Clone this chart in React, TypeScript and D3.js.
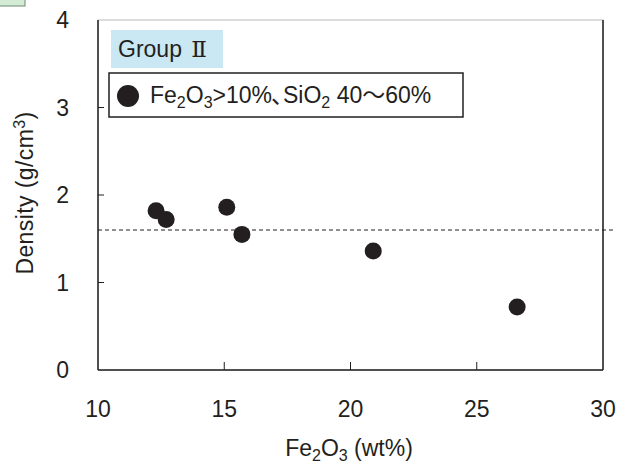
import React, { useEffect, useRef } from 'react';
import * as d3 from 'd3';

// Fe2O3 (wt%) vs density (g/cm3), Group II samples
const fe2o3 = [12.3, 12.7, 15.1, 15.7, 20.9, 26.6];
const density = [1.82, 1.72, 1.86, 1.55, 1.36, 0.72];
const xTicks = [10, 15, 20, 25, 30];
const yTicks = [0, 1, 2, 3, 4];
const refLine = 1.6;

const W = 628;
const H = 464;
const ink = '#231f20';
const font = '"Liberation Sans", Arial, "Noto Sans CJK JP", sans-serif';

const App = () => {
  const ref = useRef(null);

  useEffect(() => {
    const svg = d3.select(ref.current);
    svg.selectAll('*').remove();

    const m = { left: 98, right: 25, top: 20, bottom: 94 };
    const x = d3.scaleLinear().domain([10, 30]).range([m.left, W - m.right]);
    const y = d3.scaleLinear().domain([0, 4]).range([H - m.bottom, m.top]);

    // cut-off label box in the corner
    svg.append('rect')
      .attr('x', -1).attr('y', -1).attr('width', 26).attr('height', 7)
      .attr('fill', '#d4ecd6').attr('stroke', '#6a8a6e').attr('stroke-width', 1);

    // frame
    svg.append('rect')
      .attr('x', x(10)).attr('y', y(4))
      .attr('width', x(30) - x(10)).attr('height', y(0) - y(4))
      .attr('fill', 'none').attr('stroke', '#bbbbbb').attr('stroke-width', 1);
    svg.append('line')
      .attr('x1', x(10)).attr('x2', x(30)).attr('y1', y(0)).attr('y2', y(0))
      .attr('stroke', ink).attr('stroke-width', 1.5);
    svg.append('line')
      .attr('x1', x(10)).attr('x2', x(10)).attr('y1', y(0)).attr('y2', y(4))
      .attr('stroke', ink).attr('stroke-width', 1.5);
    svg.append('line')
      .attr('x1', x(30)).attr('x2', x(30)).attr('y1', y(0)).attr('y2', y(4))
      .attr('stroke', ink).attr('stroke-width', 1.5);

    // inward ticks
    svg.selectAll('.xt').data(xTicks.slice(1, -1)).enter().append('line')
      .attr('x1', d => x(d)).attr('x2', d => x(d))
      .attr('y1', y(0)).attr('y2', y(0) - 8)
      .attr('stroke', ink).attr('stroke-width', 1);
    svg.selectAll('.yt').data(yTicks.slice(1, -1)).enter().append('line')
      .attr('x1', x(10)).attr('x2', x(10) + 6)
      .attr('y1', d => y(d)).attr('y2', d => y(d))
      .attr('stroke', ink).attr('stroke-width', 1);

    // tick labels
    svg.selectAll('.xl').data(xTicks).enter().append('text')
      .attr('x', d => x(d)).attr('y', 417)
      .attr('text-anchor', 'middle')
      .attr('font-family', font).attr('font-size', 23).attr('fill', ink)
      .text(d => d);
    svg.selectAll('.yl').data(yTicks).enter().append('text')
      .attr('x', 69).attr('y', d => y(d)).attr('dy', '0.36em')
      .attr('text-anchor', 'end')
      .attr('font-family', font).attr('font-size', 23).attr('fill', ink)
      .text(d => d);

    // axis titles
    const xt = svg.append('text')
      .attr('x', 349).attr('y', 456).attr('text-anchor', 'middle')
      .attr('font-family', font).attr('font-size', 23).attr('fill', ink);
    xt.append('tspan').text('Fe');
    xt.append('tspan').attr('font-size', 16).attr('dy', 5).text('2');
    xt.append('tspan').attr('dy', -5).text('O');
    xt.append('tspan').attr('font-size', 16).attr('dy', 5).text('3');
    xt.append('tspan').attr('dy', -5).text(' (wt%)');

    const yt = svg.append('text')
      .attr('transform', `translate(33,${(y(0) + y(4)) / 2 - 2}) rotate(-90)`)
      .attr('text-anchor', 'middle')
      .attr('font-family', font).attr('font-size', 23).attr('fill', ink)
      .attr('letter-spacing', 0.4);
    yt.append('tspan').text('Density (g/cm');
    yt.append('tspan').attr('font-size', 16).attr('dy', -8).text('3');
    yt.append('tspan').attr('dy', 8).text(')');

    // reference dashed line
    svg.append('line')
      .attr('x1', x(10)).attr('x2', x(30) + 10)
      .attr('y1', y(refLine)).attr('y2', y(refLine))
      .attr('stroke', ink).attr('stroke-width', 1).attr('stroke-dasharray', '4,3');

    // points
    svg.selectAll('.pt').data(fe2o3).enter().append('circle')
      .attr('cx', d => x(d)).attr('cy', (d, i) => y(density[i]))
      .attr('r', 8.5).attr('fill', ink);

    // group label
    svg.append('rect')
      .attr('x', 111).attr('y', 30).attr('width', 112).attr('height', 38)
      .attr('fill', '#c9e8f4');
    const gt = svg.append('text')
      .attr('x', 118).attr('y', 57)
      .attr('font-family', font).attr('font-size', 23).attr('fill', ink);
    gt.append('tspan').text('Group ');
    gt.append('tspan').attr('font-family', '"DejaVu Serif", serif').attr('font-size', 23).attr('dx', 3).text('Ⅱ');

    // legend
    svg.append('rect')
      .attr('x', 109).attr('y', 73).attr('width', 354).attr('height', 44)
      .attr('fill', '#fff').attr('stroke', ink).attr('stroke-width', 1.5);
    svg.append('circle').attr('cx', 128).attr('cy', 96).attr('r', 11).attr('fill', ink);
    const lt = svg.append('text')
      .attr('x', 150).attr('y', 103)
      .attr('font-family', font).attr('font-size', 23).attr('fill', ink);
    lt.append('tspan').text('Fe');
    lt.append('tspan').attr('font-size', 16).attr('dy', 5).text('2');
    lt.append('tspan').attr('dy', -5).text('O');
    lt.append('tspan').attr('font-size', 16).attr('dy', 5).text('3');
    lt.append('tspan').attr('dy', -5).text('>10%');
    lt.append('tspan').attr('dx', -1).attr('letter-spacing', -11).text('、');
    lt.append('tspan').text('SiO');
    lt.append('tspan').attr('font-size', 16).attr('dy', 5).text('2');
    lt.append('tspan').attr('dy', -5).text(' 40〜60%');
  }, []);

  return (
    <svg ref={ref} width={W} height={H}
      style={{ position: 'absolute', left: 0, top: 0, background: '#fff' }} />
  );
};

export default App;
